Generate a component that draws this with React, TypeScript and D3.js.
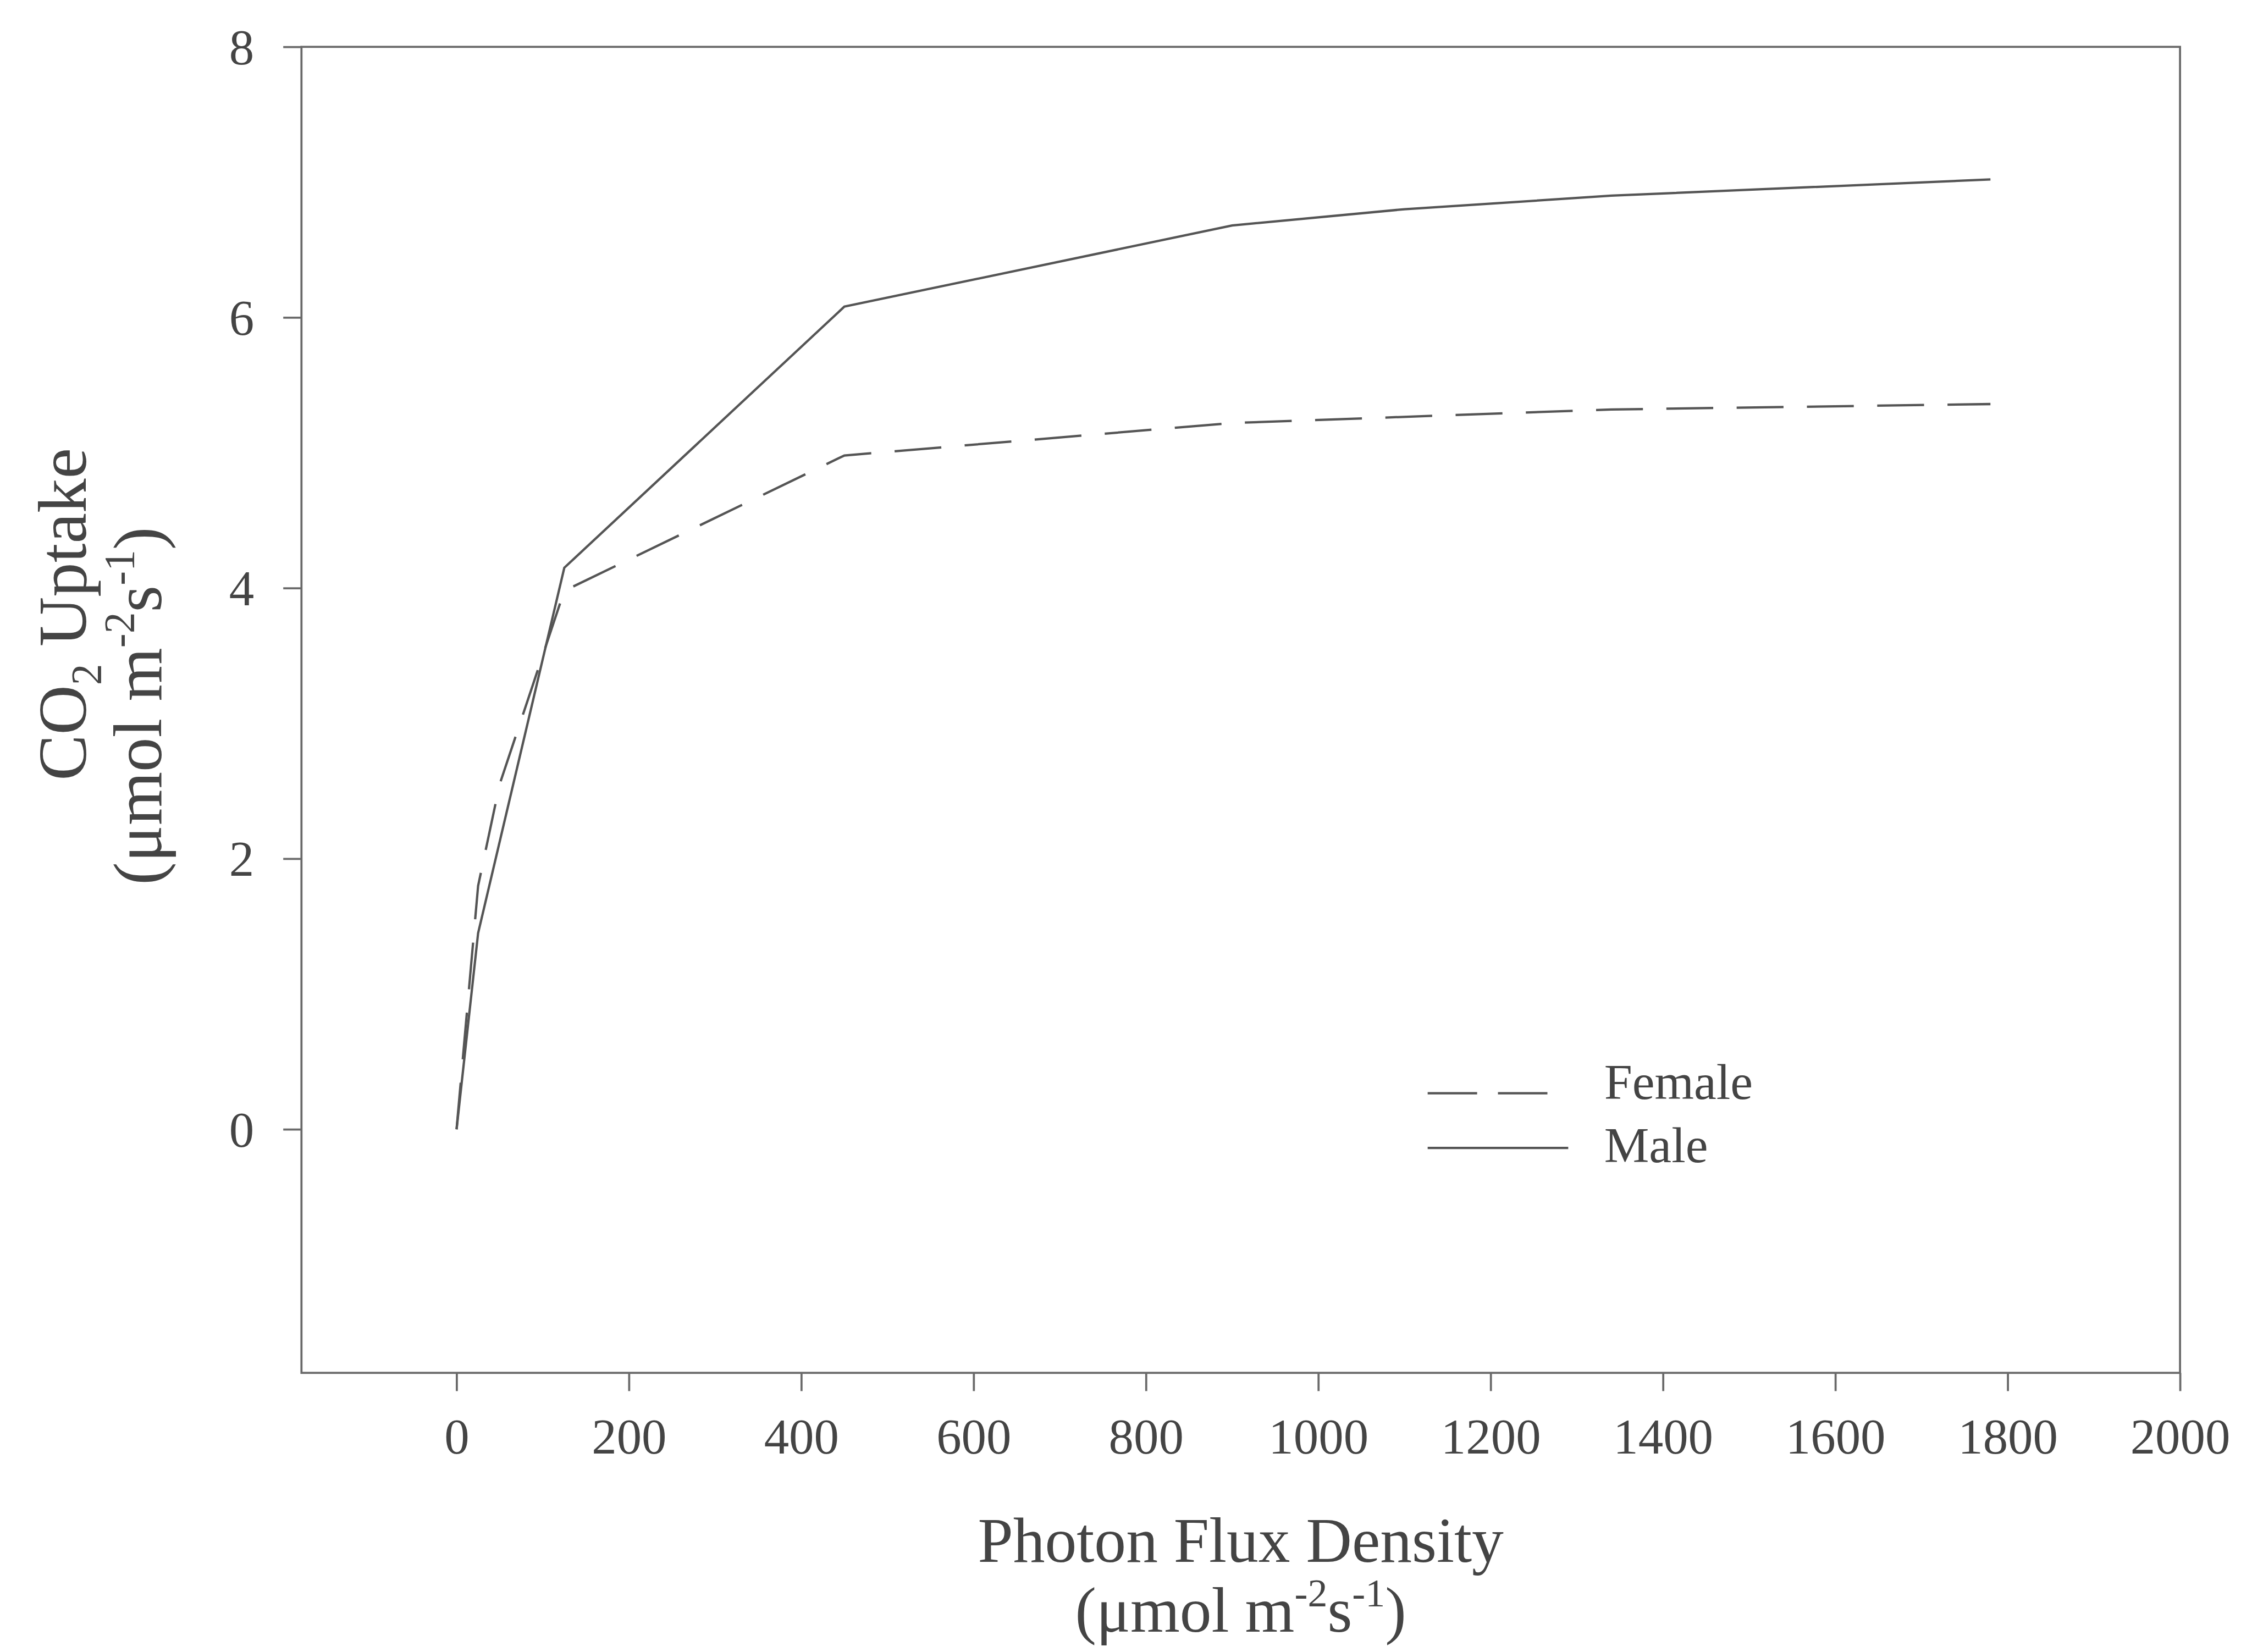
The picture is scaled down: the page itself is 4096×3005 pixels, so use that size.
import { useRef, useEffect } from 'react'
import { select, scaleLinear, axisBottom, axisLeft, line } from 'd3'

// photon flux density levels and CO2 uptake
const pfdMale = [0, 25, 125, 450, 900, 1100, 1340, 1780]
const uptakeMale = [0, 1.45, 4.15, 6.08, 6.68, 6.8, 6.9, 7.02]
const pfdFemale = [0, 25, 50, 125, 450, 900, 1340, 1780]
const uptakeFemale = [0, 1.8, 2.55, 3.98, 4.98, 5.22, 5.32, 5.36]

const xTicks = [0, 200, 400, 600, 800, 1000, 1200, 1400, 1600, 1800, 2000]
const yTicks = [0, 2, 4, 6, 8]
const legendLabels = ['Female', 'Male']

const S = 0.947
const W = 4322
const H = 3171
const FONT = '"Liberation Serif", "Times New Roman", serif'
const INK = '#444'
const FRAME = '#6a6a6a'
const CURVE = '#555'

export default function App() {
  const svgRef = useRef(null)

  useEffect(() => {
    const svg = select(svgRef.current)
    svg.selectAll('*').remove()
    const g = svg.append('g').attr('transform', `scale(${S})`)

    const left = 579, right = 4187, top = 90, bottom = 2637
    const x = scaleLinear().domain([-180, 2000]).range([left, right])
    const y = scaleLinear().domain([-1.8, 8]).range([bottom, top])

    // frame
    g.append('rect')
      .attr('x', left).attr('y', top)
      .attr('width', right - left).attr('height', bottom - top)
      .attr('fill', 'none').attr('stroke', FRAME).attr('stroke-width', 4)

    const xAxis = axisBottom(x).tickValues(xTicks).tickFormat(d => String(d))
      .tickSize(35).tickSizeOuter(0).tickPadding(52)
    const yAxis = axisLeft(y).tickValues(yTicks).tickFormat(d => String(d))
      .tickSize(35).tickSizeOuter(0).tickPadding(56)

    const gx = g.append('g').attr('transform', `translate(0,${bottom})`).call(xAxis)
    const gy = g.append('g').attr('transform', `translate(${left},0)`).call(yAxis)
    ;[gx, gy].forEach(a => {
      a.select('.domain').remove()
      a.selectAll('line').attr('stroke', FRAME).attr('stroke-width', 4)
      a.selectAll('text')
        .attr('fill', INK)
        .style('font-family', FONT)
        .style('font-size', '96px')
    })
    gy.selectAll('text').attr('dy', '0.34em')

    // curves
    const path = line().x(d => x(d[0])).y(d => y(d[1]))
    const male = pfdMale.map((p, i) => [p, uptakeMale[i]])
    const female = pfdFemale.map((p, i) => [p, uptakeFemale[i]])

    g.append('path').attr('d', path(female))
      .attr('fill', 'none').attr('stroke', CURVE).attr('stroke-width', 4.5)
      .attr('stroke-dasharray', '90 45')
    g.append('path').attr('d', path(male))
      .attr('fill', 'none').attr('stroke', CURVE).attr('stroke-width', 4.5)

    // legend
    const lg = g.append('g')
    lg.append('line').attr('x1', 2742).attr('x2', 2974).attr('y1', 2100).attr('y2', 2100)
      .attr('stroke', CURVE).attr('stroke-width', 4.5).attr('stroke-dasharray', '95 40')
    lg.append('line').attr('x1', 2742).attr('x2', 3012).attr('y1', 2205).attr('y2', 2205)
      .attr('stroke', CURVE).attr('stroke-width', 4.5)
    lg.selectAll('text').data(legendLabels).join('text')
      .attr('x', 3081)
      .attr('y', (d, i) => [2111, 2232][i])
      .attr('fill', INK)
      .style('font-family', FONT)
      .style('font-size', '97px')
      .text(d => d)

    // x title
    const cx = (left + right) / 2
    g.append('text').attr('x', cx).attr('y', 3000).attr('text-anchor', 'middle')
      .attr('fill', INK).style('font-family', FONT).style('font-size', '122px')
      .text('Photon Flux Density')
    const xt2 = g.append('text').attr('x', cx).attr('y', 3134).attr('text-anchor', 'middle')
      .attr('fill', INK).style('font-family', FONT).style('font-size', '122px')
    xt2.append('tspan').text('(\u03bcmol m')
    xt2.append('tspan').attr('dy', -48).style('font-size', '76px').text('-2')
    xt2.append('tspan').attr('dy', 48).text('s')
    xt2.append('tspan').attr('dy', -48).style('font-size', '76px').text('-1')
    xt2.append('tspan').attr('dy', 48).text(')')

    // y title
    const yt1 = g.append('text').attr('transform', `translate(165,1180) rotate(-90)`)
      .attr('text-anchor', 'middle')
      .attr('fill', INK).style('font-family', FONT).style('font-size', '132px')
    yt1.append('tspan').text('CO')
    yt1.append('tspan').attr('dy', 28).style('font-size', '82px').text('2')
    yt1.append('tspan').attr('dy', -28).text(' Uptake')

    const yt2 = g.append('text').attr('transform', `translate(309,1356) rotate(-90)`)
      .attr('text-anchor', 'middle')
      .attr('fill', INK).style('font-family', FONT).style('font-size', '132px')
    yt2.append('tspan').text('(\u03bcmol m')
    yt2.append('tspan').attr('dy', -52).style('font-size', '82px').text('-2')
    yt2.append('tspan').attr('dy', 52).text('s')
    yt2.append('tspan').attr('dy', -52).style('font-size', '82px').text('-1')
    yt2.append('tspan').attr('dy', 52).text(')')
  }, [])

  return (
    <svg
      ref={svgRef}
      width={Math.round(W * S)}
      height={Math.round(H * S)}
      style={{ position: 'absolute', left: 0, top: 0, background: '#fff' }}
    />
  )
}
